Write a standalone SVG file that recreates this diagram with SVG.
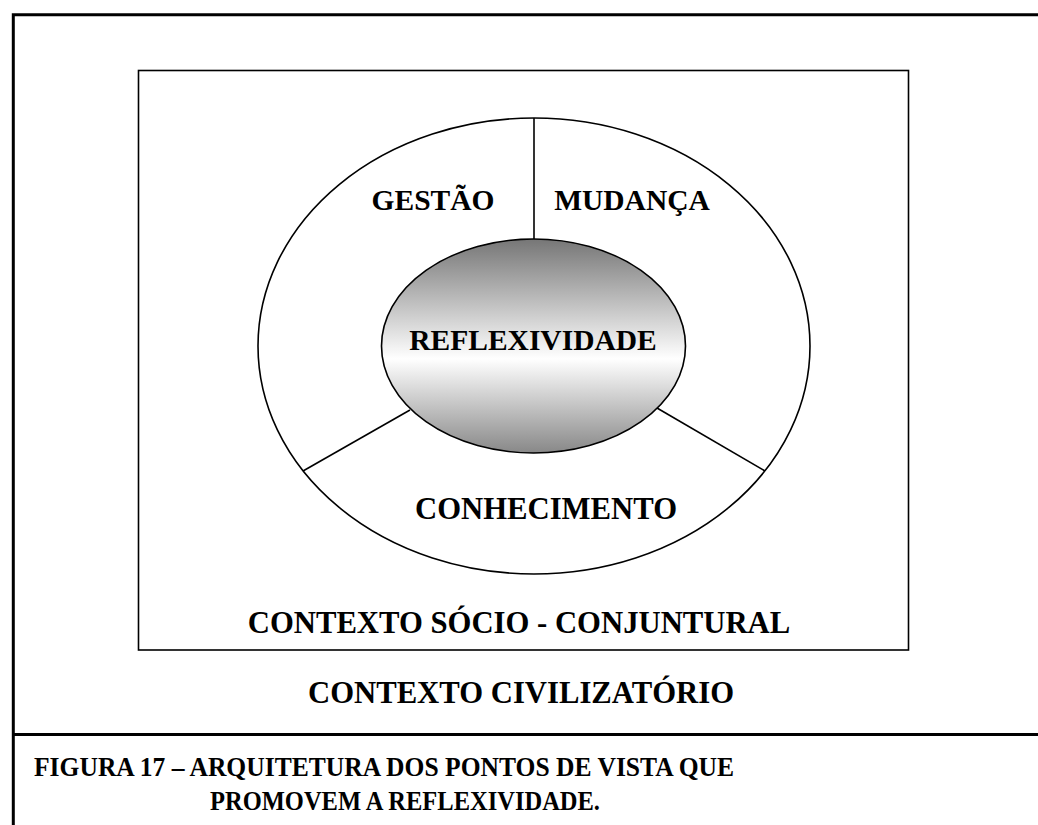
<svg xmlns="http://www.w3.org/2000/svg" width="1038" height="825" viewBox="0 0 1038 825">
<style>
.lbl{font-family:"Liberation Serif","Times New Roman",serif;font-weight:bold;font-size:29.5px;fill:#000;text-anchor:middle}
.big{font-size:30.7px}
.cap{font-family:"Liberation Serif","Times New Roman",serif;font-weight:bold;font-size:28px;fill:#000}
.frame{fill:none;stroke:#000;stroke-width:3}
.thin{fill:none;stroke:#000;stroke-width:1.6}
</style>
<defs>
<linearGradient id="g" x1="0" y1="0" x2="0" y2="1">
<stop offset="0" stop-color="#767676"/>
<stop offset="0.56" stop-color="#ffffff"/>
<stop offset="1" stop-color="#888888"/>
</linearGradient>
</defs>
<rect width="1038" height="825" fill="#fff"/>
<g id="outer-frame">
<path class="frame" d="M13.3,825 V14.7 H1038"/>
<line class="frame" x1="12" y1="734.5" x2="1038" y2="734.5" stroke-width="3.5"/>
<text class="lbl big" x="521" y="703">CONTEXTO CIVILIZATÓRIO</text>
</g>
<g id="socio-conjuntural">
<rect class="thin" x="138.5" y="70.5" width="770" height="579.5"/>
<text class="lbl big" x="519" y="633">CONTEXTO SÓCIO - CONJUNTURAL</text>
</g>
<g id="ring">
<ellipse class="thin" cx="534" cy="346" rx="276" ry="228"/>
</g>
<g id="connectors">
<line class="thin" x1="534" y1="118" x2="534" y2="239"/>
<line class="thin" x1="410" y1="410" x2="303" y2="471"/>
<line class="thin" x1="657" y1="408" x2="765" y2="471"/>
</g>
<g id="gestao"><text class="lbl" x="433" y="210">GESTÃO</text></g>
<g id="mudanca"><text class="lbl" x="632" y="210">MUDANÇA</text></g>
<g id="conhecimento"><text class="lbl big" x="546" y="519">CONHECIMENTO</text></g>
<g id="reflexividade">
<ellipse cx="533.5" cy="346" rx="152" ry="107" fill="url(#g)" stroke="#000" stroke-width="1.6"/>
<text class="lbl" x="533" y="350">REFLEXIVIDADE</text>
</g>
<g id="caption">
<text class="cap" x="34" y="776" textLength="700" lengthAdjust="spacingAndGlyphs">FIGURA 17 – ARQUITETURA DOS PONTOS DE VISTA QUE</text>
<text class="cap" x="210" y="810" textLength="390" lengthAdjust="spacingAndGlyphs">PROMOVEM A REFLEXIVIDADE.</text>
</g>
</svg>
